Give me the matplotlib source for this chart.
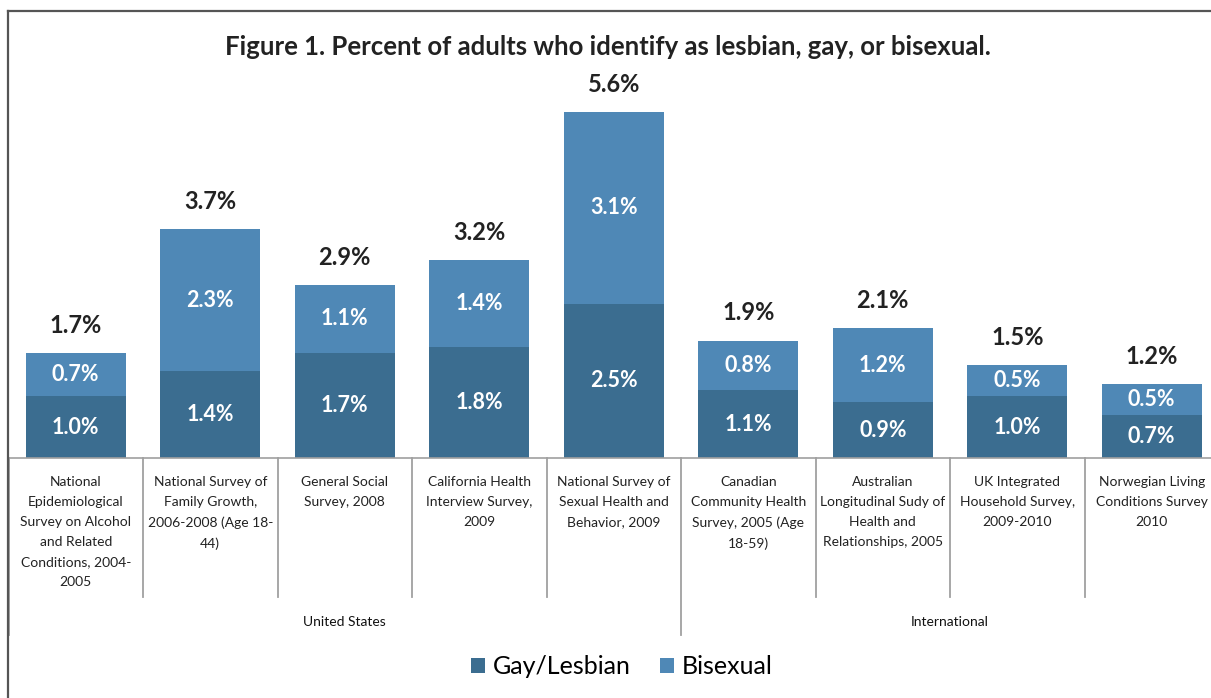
import numpy as np
import matplotlib.pyplot as plt
from matplotlib.lines import Line2D

# survey names, one per bar
surveys = [
    "National\nEpidemiological\nSurvey on Alcohol\nand Related\nConditions, 2004-\n2005",
    "National Survey of\nFamily Growth,\n2006-2008 (Age 18-\n44)",
    "General Social\nSurvey, 2008",
    "California Health\nInterview Survey,\n2009",
    "National Survey of\nSexual Health and\nBehavior, 2009",
    "Canadian\nCommunity Health\nSurvey, 2005 (Age\n18-59)",
    "Australian\nLongitudinal Sudy of\nHealth and\nRelationships, 2005",
    "UK Integrated\nHousehold Survey,\n2009-2010",
    "Norwegian Living\nConditions Survey\n2010",
]
gay_lesbian = [1.0, 1.4, 1.7, 1.8, 2.5, 1.1, 0.9, 1.0, 0.7]
bisexual = [0.7, 2.3, 1.1, 1.4, 3.1, 0.8, 1.2, 0.5, 0.5]
totals = [1.7, 3.7, 2.9, 3.2, 5.6, 1.9, 2.1, 1.5, 1.2]
groups = ["United States", "International"]
group_sizes = [5, 4]

dark = "#3b6d90"
light = "#4f88b6"
font = ["Lato", "DejaVu Sans"]

fig = plt.figure(figsize=(12.11, 6.98), dpi=100)
W, H = 1211, 698

# axes in pixel terms: baseline at y=458, 134.5 px per category
ax = fig.add_axes([8.5 / W, (H - 458) / H, 1210.5 / W, 401.7 / H])
x = np.arange(len(surveys))
b1 = ax.bar(x, gay_lesbian, width=0.74, color=dark, zorder=2)
b2 = ax.bar(x, bisexual, width=0.74, bottom=gay_lesbian, color=light, zorder=2)
ax.set_xlim(-0.5, len(surveys) - 0.5)
ax.set_ylim(0, 6.5)

for i in x:
    ax.text(i, gay_lesbian[i] / 2, f"{gay_lesbian[i]:.1f}%", ha="center", va="center",
            color="white", fontsize=15.5, fontweight="bold", family=font)
    ax.text(i, gay_lesbian[i] + bisexual[i] / 2, f"{bisexual[i]:.1f}%", ha="center",
            va="center", color="white", fontsize=15.5, fontweight="bold", family=font)
    ax.annotate(f"{totals[i]:.1f}%", (i, gay_lesbian[i] + bisexual[i]),
                xytext=(0, 20), textcoords="offset points", ha="center", va="center",
                fontsize=17, fontweight="bold", color="#222222", family=font)

for s in ["top", "right", "left"]:
    ax.spines[s].set_visible(False)
ax.spines["bottom"].set_color("#a0a0a0")
ax.spines["bottom"].set_linewidth(1.2)
ax.set_yticks([])
ax.set_xticks([])

# category separators below the axis
tr = ax.get_xaxis_transform()
short = 139 / 401.7
long_ = 177 / 401.7
edges = np.arange(-0.5, len(surveys) + 0.5)
boundaries = np.cumsum([0] + group_sizes) - 0.5
for e in edges:
    depth = long_ if e in boundaries else short
    ax.plot([e, e], [0, -depth], transform=tr, color="#a0a0a0", lw=1.3, clip_on=False)

for i, name in enumerate(surveys):
    ax.text(i, -18 / 401.7, name, transform=tr, ha="center", va="top", fontsize=10,
            color="#222222", linespacing=1.8, family=font)

start = 0
for g, n in zip(groups, group_sizes):
    ax.text(start + n / 2 - 0.5, -164 / 401.7, g, transform=tr, ha="center", va="center",
            fontsize=10, color="#111111", family=font)
    start += n

fig.text(608 / W, 1 - 47 / H, "Figure 1. Percent of adults who identify as lesbian, gay, or bisexual.",
         ha="center", va="center", fontsize=18.5, fontweight="bold", color="#222222", family=font)

fig.legend([b1, b2], ["Gay/Lesbian", "Bisexual"], loc="center", bbox_to_anchor=(622 / W, 1 - 667 / H),
           ncol=2, frameon=False, prop={"family": font, "size": 18}, handlelength=0.56,
           handleheight=0.56, handletextpad=0.32, columnspacing=1.15)

# outer frame
fig.add_artist(Line2D([7.5 / W, 7.5 / W], [0, 1 - 11 / H], color="#555555", lw=1.6))
fig.add_artist(Line2D([7.5 / W, 1], [1 - 11 / H, 1 - 11 / H], color="#555555", lw=1.6))

fig.savefig("out.png", dpi=100, facecolor="white")
